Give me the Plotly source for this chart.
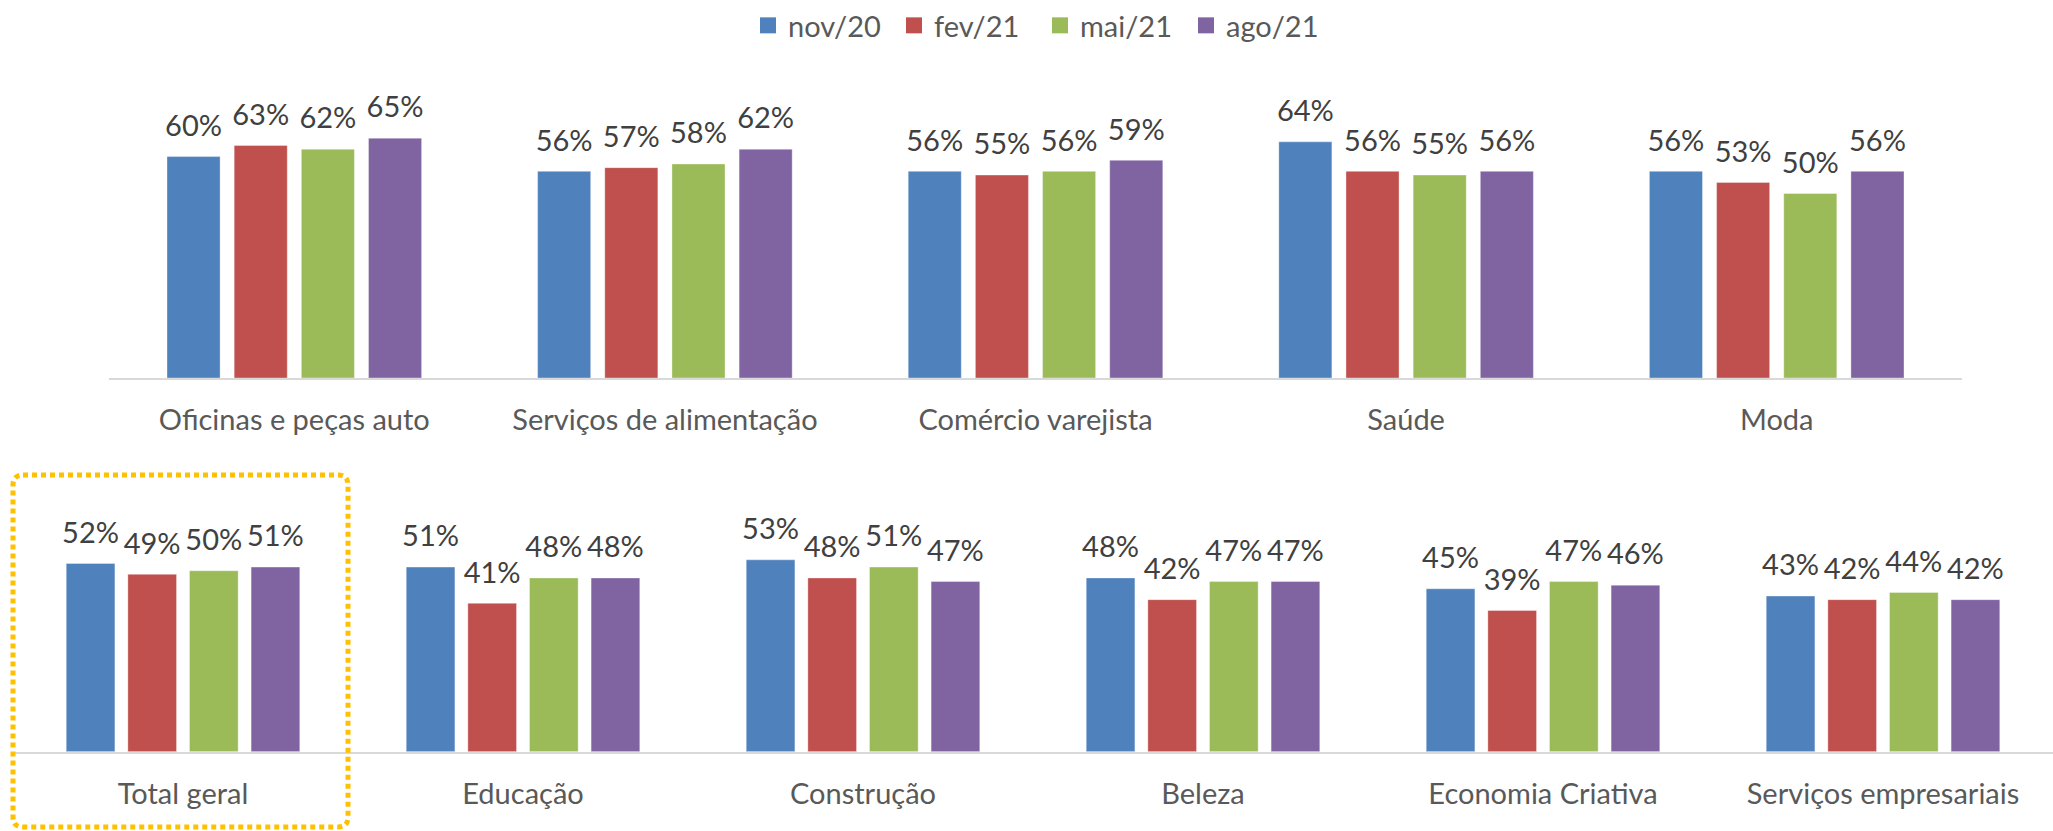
import plotly.graph_objects as go

W, H = 2053, 831

series = ["nov/20", "fev/21", "mai/21", "ago/21"]
colors = ["#4F81BD", "#C0504D", "#9BBB59", "#8064A2"]

top_categories = ["Oficinas e peças auto", "Serviços de alimentação", "Comércio varejista", "Saúde", "Moda"]
top_values = {
    "nov/20": [60, 56, 56, 64, 56],
    "fev/21": [63, 57, 55, 56, 53],
    "mai/21": [62, 58, 56, 55, 50],
    "ago/21": [65, 62, 59, 56, 56],
}

bottom_categories = ["Total geral", "Educação", "Construção", "Beleza", "Economia Criativa", "Serviços empresariais"]
bottom_values = {
    "nov/20": [52, 51, 53, 48, 45, 43],
    "fev/21": [49, 41, 48, 42, 39, 42],
    "mai/21": [50, 48, 51, 47, 47, 44],
    "ago/21": [51, 48, 47, 47, 46, 42],
}

FONT = "Lato"
LABEL_SIZE = 29
CAT_SIZE = 29
fig = go.Figure()

for row, (cats, vals, xa, ya) in enumerate([
    (top_categories, top_values, "x", "y"),
    (bottom_categories, bottom_values, "x2", "y2"),
]):
    for s, c in zip(series, colors):
        fig.add_trace(go.Bar(
            x=cats, y=vals[s], name=s, xaxis=xa, yaxis=ya,
            marker=dict(color=c, line=dict(color="rgba(255,255,255,0.35)", width=1)),
            offsetgroup=s, alignmentgroup=f"g{row}", showlegend=False,
            hoverinfo="skip",
        ))
    for s, c in zip(series, colors):
        fig.add_trace(go.Scatter(
            x=cats, y=vals[s], xaxis=xa, yaxis=ya,
            mode="markers+text",
            text=[f"{v}%" for v in vals[s]],
            textposition="top center",
            textfont=dict(family=FONT, size=LABEL_SIZE, color="#404040"),
            marker=dict(size=20, opacity=0, color=c),
            offsetgroup=s, alignmentgroup=f"g{row}", showlegend=False,
            cliponaxis=False, hoverinfo="skip",
        ))

# legend entries
for s, c in zip(series, colors):
    fig.add_trace(go.Scatter(
        x=[None], y=[None], mode="markers", name=s,
        marker=dict(symbol="square", size=18, color=c),
        xaxis="x", yaxis="y", showlegend=True,
    ))

def px_x(v):
    return v / W

def px_y(v):
    return 1 - v / H

axis_common = dict(
    showline=True, linecolor="#D9D9D9", linewidth=2,
    ticks="outside", ticklen=15, tickcolor="rgba(0,0,0,0)",
    tickfont=dict(family=FONT, size=CAT_SIZE, color="#595959"),
    showgrid=False, zeroline=False, fixedrange=True, automargin=False,
)
yaxis_common = dict(visible=False, showgrid=False, zeroline=False, fixedrange=True, automargin=False)

# rounded dotted box around "Total geral"
x0, x1, y0, y1, r = 13, 348, 475, 827, 10
rx, ry = r / W, r / H
X0, X1, Y0, Y1 = px_x(x0), px_x(x1), px_y(y0), px_y(y1)
box_path = (
    f"M {X0+rx},{Y0} L {X1-rx},{Y0} Q {X1},{Y0} {X1},{Y0-ry} "
    f"L {X1},{Y1+ry} Q {X1},{Y1} {X1-rx},{Y1} "
    f"L {X0+rx},{Y1} Q {X0},{Y1} {X0},{Y1+ry} "
    f"L {X0},{Y0-ry} Q {X0},{Y0} {X0+rx},{Y0} Z"
)

fig.update_layout(
    width=W, height=H,
    margin=dict(l=0, r=0, t=0, b=0, autoexpand=False),
    paper_bgcolor="white", plot_bgcolor="white",
    barmode="group", bargap=0.275, bargroupgap=0.21,
    scattermode="group", scattergap=0.275,
    font=dict(family=FONT, color="#404040"),
    xaxis=dict(domain=[px_x(109), px_x(1962)], anchor="y", **axis_common),
    yaxis=dict(domain=[px_y(378), px_y(378 - 70 * 3.69)], range=[0, 70], anchor="x", **yaxis_common),
    xaxis2=dict(domain=[px_x(13), 1.0], anchor="y2", **axis_common),
    yaxis2=dict(domain=[px_y(751.7), px_y(751.7 - 60 * 3.62)], range=[0, 60], anchor="x2", **yaxis_common),
    legend=dict(
        orientation="h", x=748 / W, xanchor="left", y=1.0, yanchor="top",
        font=dict(family=FONT, size=29, color="#595959"),
        itemwidth=30, entrywidth=101, entrywidthmode="pixels",
        bgcolor="rgba(0,0,0,0)",
    ),
    shapes=[dict(
        type="path", path=box_path, xref="paper", yref="paper",
        line=dict(color="#FFC000", width=5, dash="5px,4px"),
        fillcolor="rgba(0,0,0,0)",
    )],
    showlegend=True,
)

fig.write_html(
    "out.html",
    config={"displayModeBar": False, "staticPlot": True},
    post_script="document.body.style.margin='0';document.body.style.overflow='hidden';",
)
